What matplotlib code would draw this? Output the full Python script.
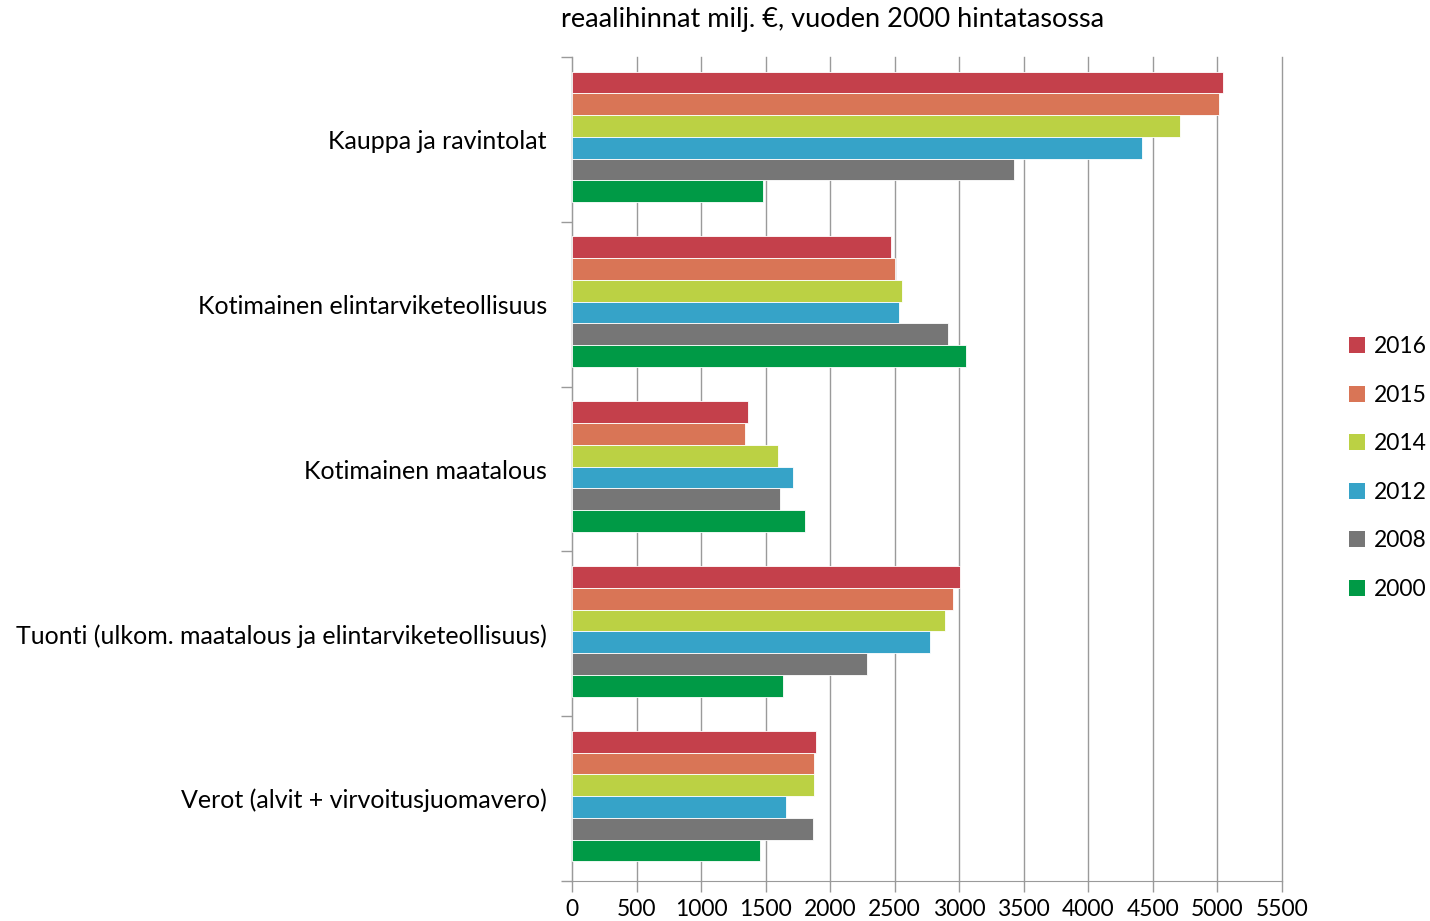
import numpy as np
import matplotlib
matplotlib.use("Agg")
import matplotlib.pyplot as plt
from matplotlib.patches import Patch

plt.rcParams['font.family'] = ['Lato', 'DejaVu Sans']

categories = ["Kauppa ja ravintolat",
              "Kotimainen elintarviketeollisuus",
              "Kotimainen maatalous",
              "Tuonti (ulkom. maatalous ja elintarviketeollisuus)",
              "Verot (alvit + virvoitusjuomavero)"]
years = ["2016", "2015", "2014", "2012", "2008", "2000"]
colors = ["#C4404B", "#D97556", "#BBD144", "#36A3C8", "#767676", "#009A46"]

v2016 = [5043, 2473, 1363, 3006, 1891]
v2015 = [5014, 2506, 1342, 2954, 1875]
v2014 = [4707, 2556, 1593, 2892, 1873]
v2012 = [4414, 2532, 1712, 2770, 1661]
v2008 = [3421, 2915, 1609, 2284, 1868]
v2000 = [1479, 3050, 1805, 1637, 1454]
series = [v2016, v2015, v2014, v2012, v2008, v2000]

title = "reaalihinnat milj. €, vuoden 2000 hintatasossa"
xticks = list(range(0, 5501, 500))

fig = plt.figure(figsize=(14.3, 9.21), dpi=100)
ax = fig.add_axes([0.4, 0.0434, 0.4965, 0.8947])

h = 0.132
pos = np.arange(len(categories))
for i, (vals, c) in enumerate(zip(series, colors)):
    ax.barh(pos + (i - 2.5) * h - 0.015, vals, height=h, color=c,
            edgecolor='white', linewidth=0.6, zorder=3)

ax.set_ylim(4.5, -0.5)
ax.set_xlim(0, 5500)
ax.set_xticks(xticks)
ax.set_xticklabels([str(t) for t in xticks], fontsize=16.5)
ax.grid(axis='x', color='#9a9a9a', linewidth=1.0, zorder=0)
for gl in ax.get_xgridlines():
    gl.set_clip_on(False)
ax.set_yticks(pos)
ax.set_yticklabels(categories, fontsize=18)
ax.tick_params(axis='y', length=0, pad=18)
ax.set_yticks(np.arange(-0.5, 4.6, 1.0), minor=True)
ax.tick_params(axis='y', which='minor', length=8, color='#9a9a9a', width=1)
ax.tick_params(axis='x', length=8, color='#9a9a9a', width=1, pad=5)
for s in ['top', 'right']:
    ax.spines[s].set_visible(False)
for s in ['left', 'bottom']:
    ax.spines[s].set_color('#9a9a9a')

fig.text(0.582, 0.979, title, ha='center', va='center', fontsize=19.5)

handles = [Patch(facecolor=c, edgecolor='none', label=y) for c, y in zip(colors, years)]
fig.legend(handles=handles, loc='center left', bbox_to_anchor=(0.937, 0.492),
           frameon=False, fontsize=16.5, handlelength=0.7, handleheight=0.7,
           handletextpad=0.4, labelspacing=1.2, borderaxespad=0)

fig.savefig("out.png", dpi=100)
